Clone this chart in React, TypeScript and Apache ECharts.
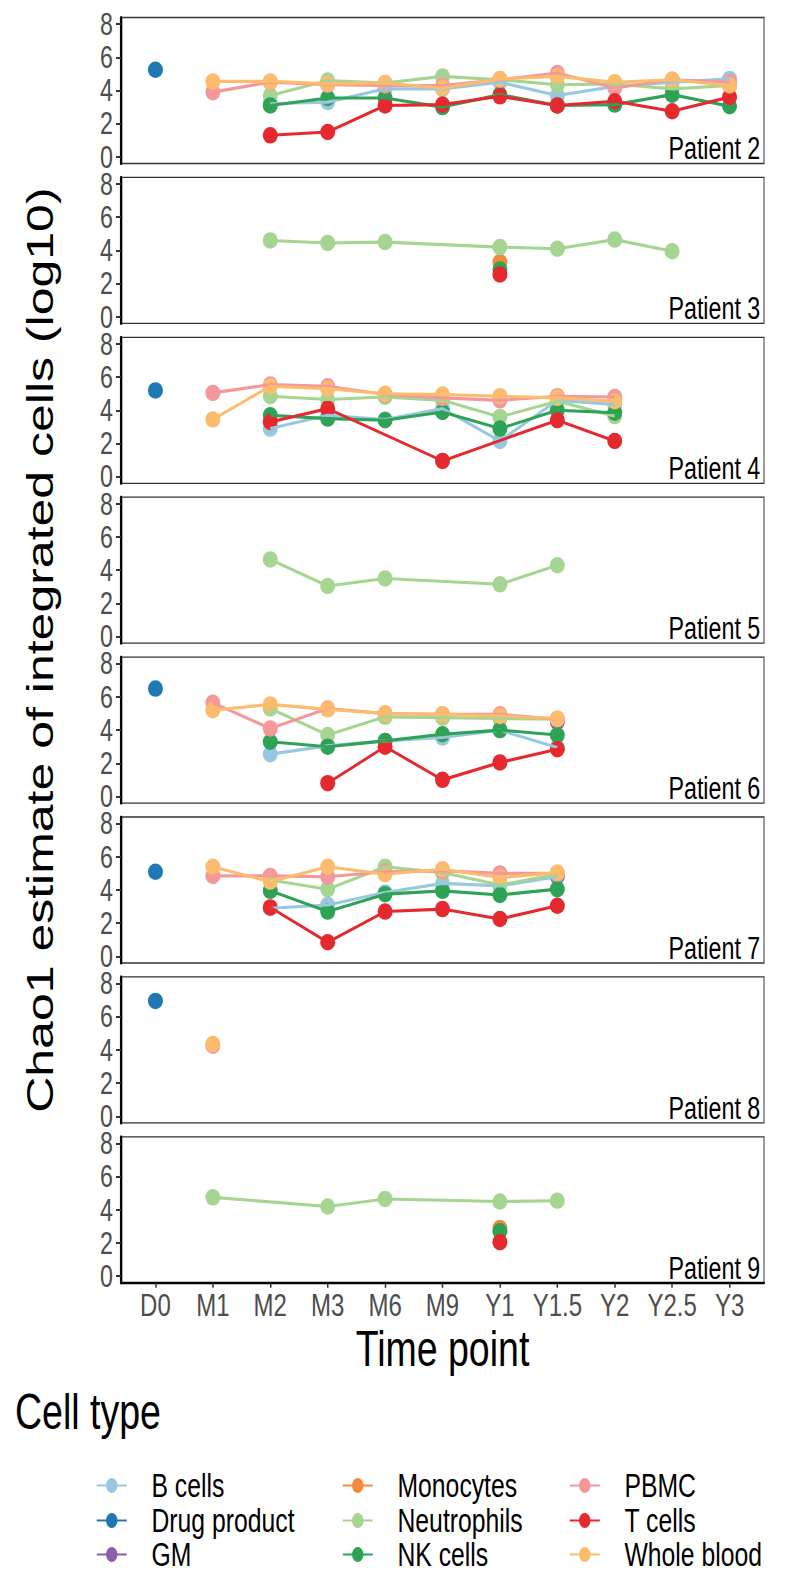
import React, { useEffect, useRef } from "react";
import * as echarts from "echarts";

const timePoints = ["D0", "M1", "M2", "M3", "M6", "M9", "Y1", "Y1.5", "Y2", "Y2.5", "Y3"];
const cellTypes = ["B cells", "Drug product", "GM", "Monocytes", "Neutrophils", "NK cells", "PBMC", "T cells", "Whole blood"];
const cellColors = ["#98c8e0", "#1f78b4", "#8b5fa8", "#f28a3c", "#a6d591", "#2ea356", "#f4989a", "#e5292f", "#fdbb6e"];
const patientNames = ["Patient 2", "Patient 3", "Patient 4", "Patient 5", "Patient 6", "Patient 7", "Patient 8", "Patient 9"];
const yTicks = [0, 2, 4, 6, 8];

type Row = (number | null)[];
const _ = null;

// values aligned with timePoints
const patient2: Record<string, Row> = {
  "B cells": [_, _, 3.2, 3.3, 4.1, 4.1, 4.5, 3.7, 4.25, 4.5, 4.7],
  "Drug product": [5.25, _, _, _, _, _, _, _, _, _, _],
  GM: [_, _, _, _, _, _, _, _, _, _, 4.35],
  Neutrophils: [_, _, 3.7, 4.6, 4.45, 4.85, 4.65, 4.35, 4.4, 4.1, 4.3],
  "NK cells": [_, _, 3.1, 3.55, 3.55, 3.0, 3.75, 3.1, 3.15, 3.75, 3.05],
  PBMC: [_, 3.9, 4.5, 4.35, 4.3, 4.3, 4.65, 5.05, 4.15, 4.65, 4.5],
  "T cells": [_, _, 1.3, 1.5, 3.1, 3.15, 3.65, 3.1, 3.35, 2.75, 3.6],
  "Whole blood": [_, 4.55, 4.55, 4.4, 4.45, 4.15, 4.7, 4.85, 4.5, 4.65, 4.3],
};
const patient3: Record<string, Row> = {
  Monocytes: [_, _, _, _, _, _, 3.3, _, _, _, _],
  Neutrophils: [_, _, 4.6, 4.45, 4.5, _, 4.2, 4.1, 4.65, 3.95, _],
  "NK cells": [_, _, _, _, _, _, 2.85, _, _, _, _],
  "T cells": [_, _, _, _, _, _, 2.55, _, _, _, _],
};
const patient4: Record<string, Row> = {
  "B cells": [_, _, 2.9, 3.7, 3.45, 4.1, 2.15, 4.6, 4.35, _, _],
  "Drug product": [5.2, _, _, _, _, _, _, _, _, _, _],
  Neutrophils: [_, _, 4.85, 4.65, 4.8, 4.6, 3.6, 4.55, 3.65, _, _],
  "NK cells": [_, _, 3.7, 3.5, 3.4, 3.9, 2.9, 4.0, 3.85, _, _],
  PBMC: [_, 5.05, 5.55, 5.45, 4.95, 4.75, 4.6, 4.85, 4.8, _, _],
  "T cells": [_, _, 3.3, 4.1, _, 0.95, _, 3.4, 2.15, _, _],
  "Whole blood": [_, 3.45, 5.45, 5.3, 5.0, 4.95, 4.85, 4.75, 4.55, _, _],
};
const patient5: Record<string, Row> = {
  Neutrophils: [_, _, 4.65, 3.05, 3.5, _, 3.15, 4.3, _, _, _],
};
const patient6: Record<string, Row> = {
  "B cells": [_, _, 2.55, 3.05, 3.35, 3.55, 4.0, 2.95, _, _, _],
  "Drug product": [6.5, _, _, _, _, _, _, _, _, _, _],
  GM: [_, _, _, _, _, _, _, 4.5, _, _, _],
  Neutrophils: [_, _, 5.3, 3.7, 4.8, 4.75, 4.7, 4.65, _, _, _],
  "NK cells": [_, _, 3.3, 3.0, 3.35, 3.75, 4.0, 3.7, _, _, _],
  PBMC: [_, 5.65, 4.1, 5.3, 5.0, 4.95, 4.95, 4.65, _, _, _],
  "T cells": [_, _, _, 0.8, 3.0, 1.0, 2.05, 2.85, _, _, _],
  "Whole blood": [_, 5.2, 5.55, 5.25, 5.0, 4.95, 4.85, 4.7, _, _, _],
};
const patient7: Record<string, Row> = {
  "B cells": [_, _, 2.9, 3.1, 3.85, 4.4, 4.25, 4.8, _, _, _],
  "Drug product": [5.1, _, _, _, _, _, _, _, _, _, _],
  GM: [_, _, _, _, _, _, _, 4.85, _, _, _],
  Neutrophils: [_, _, 4.6, 4.05, 5.4, 5.05, 4.3, 4.95, _, _, _],
  "NK cells": [_, _, 3.95, 2.7, 3.75, 3.95, 3.7, 4.05, _, _, _],
  PBMC: [_, 4.85, 4.85, 4.8, 5.1, 5.15, 5.0, 5.0, _, _, _],
  "T cells": [_, _, 2.95, 0.85, 2.7, 2.85, 2.25, 3.05, _, _, _],
  "Whole blood": [_, 5.4, 4.5, 5.4, 4.95, 5.25, 4.75, 5.05, _, _, _],
};
const patient8: Record<string, Row> = {
  "Drug product": [6.95, _, _, _, _, _, _, _, _, _, _],
  PBMC: [_, 4.25, _, _, _, _, _, _, _, _, _],
  "Whole blood": [_, 4.35, _, _, _, _, _, _, _, _, _],
};
const patient9: Record<string, Row> = {
  Monocytes: [_, _, _, _, _, _, 2.9, _, _, _, _],
  Neutrophils: [_, 4.75, _, 4.2, 4.65, _, 4.5, 4.55, _, _, _],
  "NK cells": [_, _, _, _, _, _, 2.7, _, _, _, _],
  "T cells": [_, _, _, _, _, _, 2.05, _, _, _, _],
};
const patientData = [patient2, patient3, patient4, patient5, patient6, patient7, patient8, patient9];

const FONT = "'Liberation Sans', Arial, Helvetica, sans-serif";
// the reference figure is horizontally compressed; draw wider and squeeze
const S = 0.75;
const W = 800 / S;
const X = (px: number) => px / S;
const PANEL_LEFT = 121;
const PANEL_WIDTH = 643;
const PANEL_TOP0 = 17.5;
const PANEL_STEP = 159.9;
const PANEL_HEIGHT = 146;
const DOT = "path://M10 0A10 10 0 1 1 10 20A10 10 0 1 1 10 0Z";

export default function App() {
  const ref = useRef<HTMLDivElement>(null);
  useEffect(() => {
    document.body.style.margin = "0";
    if (!ref.current) return;
    const chart = echarts.init(ref.current, undefined, { renderer: "svg" });
    const n = patientNames.length;
    const grids: any[] = [];
    const xAxes: any[] = [];
    const yAxes: any[] = [];
    const titles: any[] = [];
    const lineSeries: any[] = [];
    const pointSeries: any[] = [];
    const xIdx = timePoints.map((_t, i) => i);
    for (let p = 0; p < n; p++) {
      const top = PANEL_TOP0 + p * PANEL_STEP;
      const last = p === n - 1;
      grids.push({
        left: X(PANEL_LEFT),
        width: X(PANEL_WIDTH),
        top,
        height: PANEL_HEIGHT,
        show: true,
        borderColor: "#333",
        borderWidth: 1.3,
        backgroundColor: "#fff",
      });
      xAxes.push({
        type: "value",
        gridIndex: p,
        min: -0.6,
        max: 10.6,
        splitLine: { show: false },
        axisLine: { show: last, onZero: false, lineStyle: { color: "#000", width: 2.4 } },
        axisTick: { show: last, customValues: xIdx, length: 5, lineStyle: { color: "#333", width: 2 } },
        axisLabel: {
          show: last,
          customValues: xIdx,
          formatter: (v: number) => timePoints[Math.round(v)] ?? "",
          fontSize: 32,
          lineHeight: 26,
          color: "#4d4d4d",
          margin: 9,
          fontFamily: FONT,
        },
      });
      yAxes.push({
        type: "value",
        gridIndex: p,
        min: -0.4,
        max: 8.4,
        splitLine: { show: false },
        axisLine: { show: true, onZero: false, lineStyle: { color: "#000", width: 3.2 } },
        axisTick: { show: true, customValues: yTicks, length: X(5), lineStyle: { color: "#333", width: 2 } },
        axisLabel: {
          customValues: yTicks,
          fontSize: 31,
          lineHeight: 22,
          color: "#4d4d4d",
          margin: X(8),
          fontFamily: FONT,
        },
      });
      titles.push({
        text: patientNames[p],
        right: X(40),
        top: top + PANEL_HEIGHT - 30,
        padding: 0,
        textStyle: { fontSize: 31, lineHeight: 30, fontWeight: "normal", color: "#000", fontFamily: FONT },
      });
      const rec = patientData[p];
      cellTypes.forEach((ct, ci) => {
        const row = rec[ct];
        if (!row) return;
        const pts: [number, number][] = [];
        row.forEach((v, i) => {
          if (v !== null && v !== undefined) pts.push([i, v]);
        });
        if (!pts.length) return;
        lineSeries.push({
          type: "line",
          name: ct,
          xAxisIndex: p,
          yAxisIndex: p,
          data: pts,
          symbol: "none",
          showSymbol: false,
          lineStyle: { color: cellColors[ci], width: 3.1 },
          itemStyle: { color: cellColors[ci] },
          z: 3,
          silent: true,
        });
        pointSeries.push({
          type: "scatter",
          name: ct,
          xAxisIndex: p,
          yAxisIndex: p,
          data: pts,
          symbol: DOT,
          symbolSize: [X(15), 16.5],
          itemStyle: { color: cellColors[ci], opacity: 1 },
          z: 2,
          silent: true,
        });
      });
    }
    const legendLefts = [96, 342, 569];
    const legendRows = [1482, 1517, 1551];
    const LEG_FONT = 33;
    const LEG_LH = 26;
    const legends = cellTypes.map((ct, i) => {
      const col = Math.floor(i / 3);
      const row = i % 3;
      return {
        data: [ct],
        orient: "horizontal",
        left: X(legendLefts[col]),
        top: legendRows[row] - LEG_LH / 2,
        padding: 0,
        itemWidth: X(30),
        itemHeight: 19,
        selectedMode: false,
        textStyle: {
          fontSize: LEG_FONT,
          lineHeight: LEG_LH,
          color: "#000",
          fontFamily: FONT,
          padding: [0, 0, 0, X(21)],
        },
      };
    });

    chart.setOption({
      animation: false,
      textStyle: { fontFamily: FONT },
      backgroundColor: "#fff",
      title: titles,
      grid: grids,
      xAxis: xAxes,
      yAxis: yAxes,
      legend: legends,
      series: [...lineSeries, ...pointSeries],
      graphic: [
        {
          type: "text",
          x: X(40),
          y: PANEL_TOP0 + (PANEL_STEP * (n - 1) + PANEL_HEIGHT) / 2,
          rotation: Math.PI / 2,
          style: {
            text: "Chao1 estimate of integrated cells (log10)",
            fontSize: 50,
            fontFamily: FONT,
            fill: "#000",
            textAlign: "center",
            textVerticalAlign: "middle",
          },
        },
        {
          type: "text",
          x: X(PANEL_LEFT + PANEL_WIDTH / 2),
          y: 1348,
          style: {
            text: "Time point",
            fontSize: 50,
            fontFamily: FONT,
            fill: "#000",
            textAlign: "center",
            textVerticalAlign: "middle",
          },
        },
        {
          type: "text",
          x: X(15),
          y: 1411,
          style: {
            text: "Cell type",
            fontSize: 50,
            fontFamily: FONT,
            fill: "#000",
            textAlign: "left",
            textVerticalAlign: "middle",
          },
        },
      ],
    });
    return () => chart.dispose();
  }, []);
  return (
    <div style={{ width: 800, height: 1572, overflow: "hidden", position: "relative" }}>
      <div
        ref={ref}
        style={{ width: W, height: 1572, transform: `scaleX(${S})`, transformOrigin: "0 0" }}
      />
    </div>
  );
}
